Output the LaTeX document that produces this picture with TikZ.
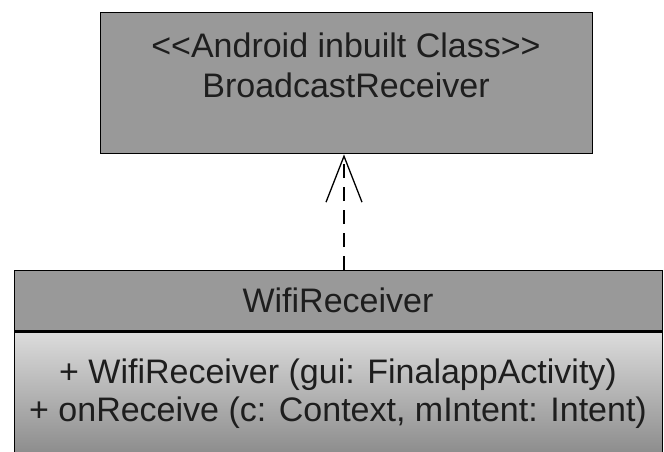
\documentclass[tikz,border=0pt]{standalone}
\usepackage{fontspec}
\setmainfont[Ligatures=NoCommon]{Liberation Sans}
\usetikzlibrary{arrows.meta}
\definecolor{boxgray}{HTML}{999999}
\definecolor{bodytop}{HTML}{DCDCDC}
\definecolor{bodybot}{HTML}{878787}
\definecolor{txt}{HTML}{1E1E1E}
\begin{document}
\begin{tikzpicture}[x=1pt,y=-1pt,
  umlbox/.style={draw=black, line width=1.4pt, inner sep=0pt, anchor=north west},
  lbl/.style={font=\fontsize{34}{40}\selectfont, text=txt, inner sep=0pt},
  realize/.style={draw=black, line width=1.3pt, dash pattern=on 14pt off 9pt,
    -{Straight Barb[length=46pt,width=36pt,line width=1.3pt]}}]
\useasboundingbox (0,0) rectangle (664,452);
\clip (0,0) rectangle (664,452);
% super class
\node[umlbox, fill=boxgray, minimum width=492pt, minimum height=141pt] (sup) at (100,12) {};
\node[lbl] (supst) at (346,45) {{<}{<}Android inbuilt Class{>}{>}};
\node[lbl] (supnm) at (346,85) {BroadcastReceiver};
% sub class header
\node[umlbox, fill=boxgray, minimum width=648pt, minimum height=61pt] (subh) at (14,270) {};
\node[lbl] (subnm) at (338,300) {WifiReceiver};
% body
\node[umlbox, top color=bodytop, bottom color=bodybot, minimum width=648pt, minimum height=130pt] (subb) at (14,331) {};
\draw[line width=3pt] (subb.north west) -- (subb.north east);
\node[lbl] (op1) at (338,375) {+ WifiReceiver (gui: FinalappActivity)};
\node[lbl] (op2) at (338,413) {+ onReceive (c: Context, mIntent: Intent)};
% realization arrow
\coordinate (tail) at (subh.north -| 344,0);
\coordinate (head) at (sup.south -| 344,0);
\draw[realize] (tail) -- (head);
\end{tikzpicture}
\end{document}
